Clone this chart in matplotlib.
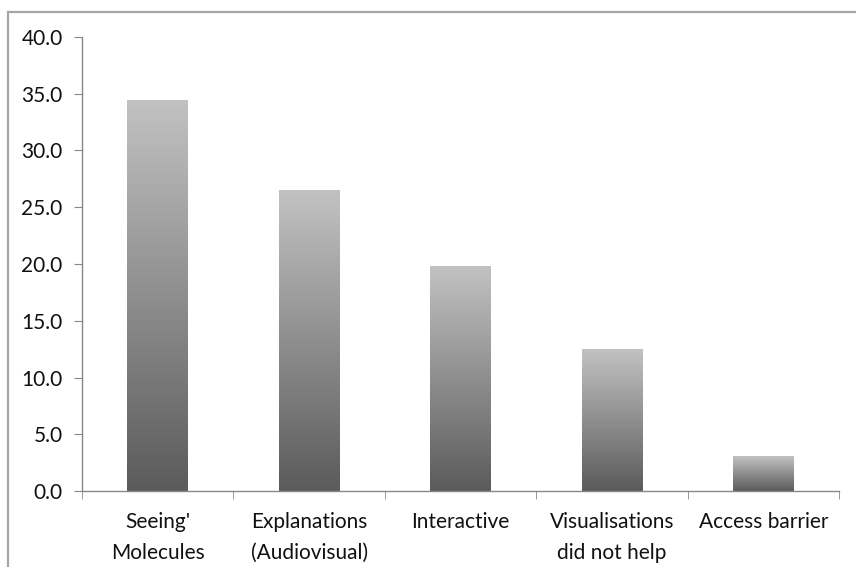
import matplotlib.pyplot as plt
import numpy as np
from matplotlib.patches import Rectangle
from matplotlib.colors import LinearSegmentedColormap
from matplotlib.ticker import FormatStrFormatter, MultipleLocator, FixedLocator

categories = ["Seeing'\nMolecules", "Explanations\n(Audiovisual)", "Interactive",
              "Visualisations\ndid not help", "Access barrier"]
values = [34.4, 26.5, 19.8, 12.5, 3.0]

plt.rcParams['font.family'] = ['Lato', 'DejaVu Sans']

fig = plt.figure(figsize=(8.56, 5.67), dpi=100)
ax = fig.add_axes([82 / 856, 1 - 491 / 567, (839 - 82) / 856, (491 - 37) / 567])

# frame around the chart area (runs off right and bottom)
fig.patches.append(Rectangle((8 / 856, -0.1), 1.2, 1.1 - 12 / 567, transform=fig.transFigure,
                             fill=False, edgecolor='#a6a6a6', linewidth=1.6))

ind = np.arange(len(values))
bars = ax.bar(ind, values, width=0.4, color='none', edgecolor='none')

cmap = LinearSegmentedColormap.from_list('g', ['#5b5b5b', '#c2c2c2'])
grad = np.linspace(0, 1, 256).reshape(-1, 1)
for b in bars:
    x0, y0 = b.get_x(), b.get_y()
    w, h = b.get_width(), b.get_height()
    ax.imshow(grad, cmap=cmap, origin='lower', aspect='auto',
              extent=(x0, x0 + w, y0, y0 + h), zorder=2)

ax.set_xlim(-0.5, len(values) - 0.5)
ax.set_ylim(0, 40)
ax.yaxis.set_major_locator(MultipleLocator(5))
ax.yaxis.set_major_formatter(FormatStrFormatter('%.1f'))

ax.set_xticks(ind)
ax.set_xticklabels(categories, linespacing=1.7)
ax.xaxis.set_minor_locator(FixedLocator(np.arange(-0.5, len(values), 1.0)))
ax.tick_params(axis='x', which='major', length=0, pad=15, labelsize=15, colors='#111111')
ax.tick_params(axis='x', which='minor', length=6, color='#888888', direction='out')
ax.tick_params(axis='y', length=6, color='#888888', labelsize=15, labelcolor='#111111', pad=8)

for s in ['top', 'right']:
    ax.spines[s].set_visible(False)
for s in ['left', 'bottom']:
    ax.spines[s].set_color('#888888')
    ax.spines[s].set_linewidth(1.0)

fig.savefig('out.png', dpi=100)
